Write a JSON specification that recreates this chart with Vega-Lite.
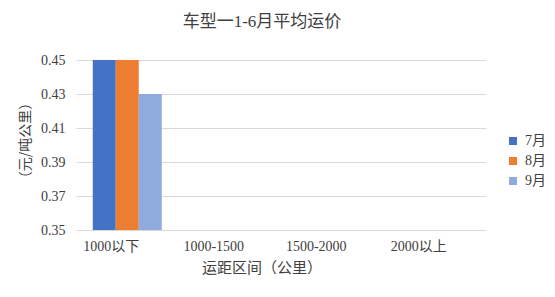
{
  "$schema": "https://vega.github.io/schema/vega-lite/v6.json",
  "autosize": "none",
  "padding": {"left": 76, "top": 60, "right": 69, "bottom": 67},
  "width": 410,
  "height": 170,
  "background": "white",
  "title": {
    "text": "车型一1-6月平均运价",
    "font": "Liberation Serif, Noto Sans CJK SC",
    "fontSize": 17,
    "fontWeight": "normal",
    "color": "#404040",
    "frame": "group",
    "anchor": "middle",
    "dx": -19,
    "offset": 22
  },
  "data": {
    "values": [
      {"range": "1000以下", "month": "7月", "price": 0.45},
      {"range": "1000以下", "month": "8月", "price": 0.45},
      {"range": "1000以下", "month": "9月", "price": 0.43},
      {"range": "1000-1500", "month": "7月", "price": null},
      {"range": "1000-1500", "month": "8月", "price": null},
      {"range": "1000-1500", "month": "9月", "price": null},
      {"range": "1500-2000", "month": "7月", "price": null},
      {"range": "1500-2000", "month": "8月", "price": null},
      {"range": "1500-2000", "month": "9月", "price": null},
      {"range": "2000以上", "month": "7月", "price": null},
      {"range": "2000以上", "month": "8月", "price": null},
      {"range": "2000以上", "month": "9月", "price": null}
    ]
  },
  "mark": {"type": "bar", "clip": true},
  "encoding": {
    "x": {
      "field": "range",
      "type": "nominal",
      "sort": null,
      "scale": {"domain": ["1000以下", "1000-1500", "1500-2000", "2000以上"], "paddingInner": 0.327, "paddingOuter": 0.1635},
      "axis": {
        "title": "运距区间（公里）",
        "labelAngle": 0,
        "domain": false,
        "ticks": false,
        "labelPadding": 9,
        "labelOffset": -16,
        "labelFontSize": 14,
        "titleFontSize": 15,
        "titleFontWeight": "normal",
        "titlePadding": 7,
        "titleX": 185.5,
        "labelFont": "Liberation Serif, Noto Sans CJK SC",
        "titleFont": "Noto Sans CJK SC",
        "labelColor": "#404040",
        "titleColor": "#404040"
      }
    },
    "xOffset": {"field": "month", "type": "nominal", "scale": {"paddingInner": 0, "paddingOuter": 0}},
    "y": {
      "field": "price",
      "type": "quantitative",
      "scale": {"domain": [0.35, 0.45], "zero": false, "nice": false},
      "axis": {
        "title": "（元/吨公里）",
        "values": [0.35, 0.37, 0.39, 0.41, 0.43, 0.45],
        "format": ".2f",
        "domain": false,
        "ticks": false,
        "labelPadding": 11,
        "labelFontSize": 14,
        "labelFont": "Liberation Serif",
        "labelColor": "#404040",
        "gridColor": "#d9d9d9",
        "gridWidth": 1,
        "titleFont": "Noto Sans CJK SC",
        "titleFontSize": 14,
        "titleFontWeight": "normal",
        "titleColor": "#404040",
        "titleX": -51,
        "titleY": 80,
        "titleAlign": "center",
        "titleBaseline": "middle",
        "titleAngle": 270
      }
    },
    "color": {
      "field": "month",
      "type": "nominal",
      "scale": {"domain": ["7月", "8月", "9月"], "range": ["#4472c4", "#ed7d31", "#8faadc"]},
      "legend": {
        "title": null,
        "orient": "none",
        "legendX": 430,
        "legendY": 74,
        "symbolType": "square",
        "symbolSize": 64,
        "symbolStrokeWidth": 0,
        "labelFontSize": 14,
        "labelFont": "Liberation Serif, Noto Sans CJK SC",
        "labelColor": "#404040",
        "labelOffset": 5,
        "rowPadding": 6
      }
    }
  },
  "config": {"view": {"stroke": null}}
}
